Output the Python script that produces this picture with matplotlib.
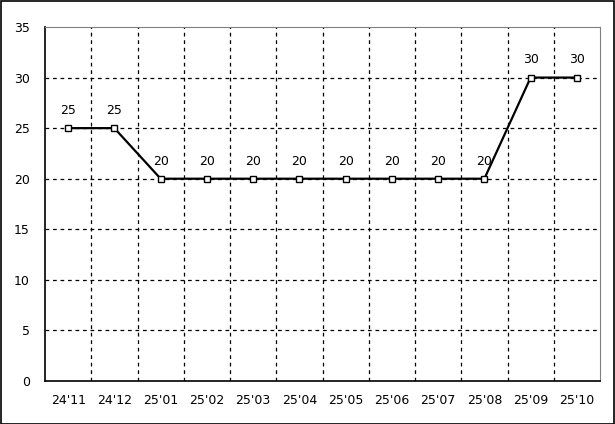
import matplotlib
matplotlib.use("Agg")
import matplotlib.pyplot as plt
from matplotlib.patches import Rectangle

months = ["24'11", "24'12", "25'01", "25'02", "25'03", "25'04",
          "25'05", "25'06", "25'07", "25'08", "25'09", "25'10"]
values = [25, 25, 20, 20, 20, 20, 20, 20, 20, 20, 30, 30]
yticks = [0, 5, 10, 15, 20, 25, 30, 35]

fig = plt.figure(figsize=(6.15, 4.24), dpi=100)
ax = fig.add_axes([45 / 615, 43 / 424, 555 / 615, 354 / 424])
fig.patches.append(Rectangle((0.5 / 615, 0.5 / 424), 613.5 / 615, 422.5 / 424,
                             transform=fig.transFigure, fill=False,
                             edgecolor="black", lw=1.2))

x = list(range(len(months)))
ax.plot(x, values, color="black", lw=1.6, marker="s", ms=4.5,
        mfc="white", mec="black", mew=1, zorder=3)
for xi, v in zip(x, values):
    ax.annotate(f"{v}", (xi, v), textcoords="offset points", xytext=(0, 8),
                ha="center", va="bottom", fontsize=9)

ax.set_xlim(-0.5, len(months) - 0.5)
ax.set_ylim(0, 35)
ax.set_yticks(yticks)
ax.set_xticks(x)
ax.set_xticklabels(months)
ax.tick_params(length=0, labelsize=9)
ax.tick_params(axis="y", pad=11)
ax.tick_params(axis="x", pad=9)

for b in [i + 0.5 for i in range(len(months) - 1)]:
    ax.axvline(b, color="black", ls=(0, (3, 3)), lw=0.9, zorder=1)
for yt in yticks[1:-1]:
    ax.axhline(yt, color="black", ls=(0, (3, 3)), lw=0.9, zorder=1)

ax.spines["left"].set_color("black")
ax.spines["bottom"].set_color("black")
ax.spines["left"].set_linewidth(1.2)
ax.spines["bottom"].set_linewidth(1.2)
ax.spines["top"].set_color("#808080")
ax.spines["right"].set_color("#808080")

fig.savefig("out.png", dpi=100)
